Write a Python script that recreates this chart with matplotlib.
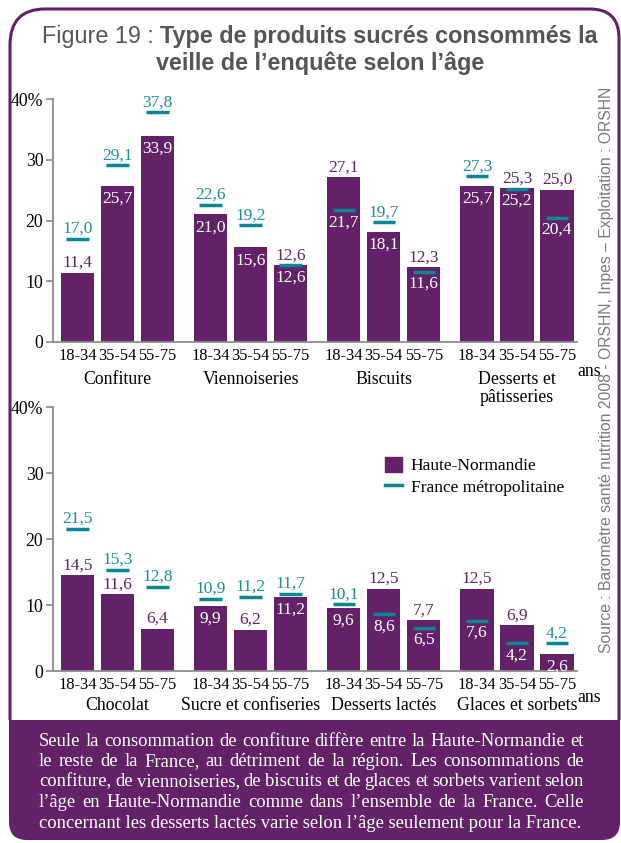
import matplotlib.pyplot as plt
import numpy as np
from matplotlib.path import Path
from matplotlib.patches import PathPatch, Patch
from matplotlib.lines import Line2D

# data
ages = ['18-34', '35-54', '55-75']
cats_top = ['Confiture', 'Viennoiseries', 'Biscuits', 'Desserts et\npâtisseries']
hn_top = [11.4, 25.7, 33.9, 21.0, 15.6, 12.6, 27.1, 18.1, 12.3, 25.7, 25.3, 25.0]
fr_top = [17.0, 29.1, 37.8, 22.6, 19.2, 12.6, 21.7, 19.7, 11.6, 27.3, 25.2, 20.4]
# HN label drawn inside the bar (white) when the France line is above it
hn_in_top = [False, True, True, True, True, False, False, True, False, True, False, False]

cats_bot = ['Chocolat', 'Sucre et confiseries', 'Desserts lactés', 'Glaces et sorbets']
hn_bot = [14.5, 11.6, 6.4, 9.9, 6.2, 11.2, 9.6, 12.5, 7.7, 12.5, 6.9, 2.6]
fr_bot = [21.5, 15.3, 12.8, 10.9, 11.2, 11.7, 10.1, 8.6, 6.5, 7.6, 4.2, 4.2]
hn_in_bot = [False, False, False, True, False, True, True, False, False, False, False, True]

note = ["Seule la consommation de confiture diffère entre la Haute-Normandie et",
        "le reste de la France, au détriment de la région. Les consommations de",
        "confiture, de viennoiseries, de biscuits et de glaces et sorbets varient selon",
        "l’âge en Haute-Normandie comme dans l’ensemble de la France. Celle",
        "concernant les desserts lactés varie selon l’âge seulement pour la France."]

purple = '#632268'
teal = '#0b8793'
teal_txt = '#1a8e9c'
grey = '#8c8c8c'
serif = 'Liberation Serif'
sans = 'Liberation Sans'
fs = 12.8

fig = plt.figure(figsize=(6.21, 8.43), dpi=100)
W, H = 621, 843

bg = fig.add_axes([0, 0, 1, 1], zorder=-1)
bg.set_xlim(0, W)
bg.set_ylim(H, 0)
bg.axis('off')

# frame
verts = [(10, 720), (10, 45), (10, 9), (45, 9), (590, 9), (619, 9), (619, 38), (619, 720)]
codes = [Path.MOVETO, Path.LINETO, Path.CURVE3, Path.CURVE3, Path.LINETO,
         Path.CURVE3, Path.CURVE3, Path.LINETO]
bg.add_patch(PathPatch(Path(verts, codes), fill=False, ec=purple, lw=2.2))
verts = [(9, 720), (620, 720), (620, 822), (620, 840), (602, 840), (27, 840),
         (9, 840), (9, 822), (9, 720)]
codes = [Path.MOVETO, Path.LINETO, Path.LINETO, Path.CURVE3, Path.CURVE3, Path.LINETO,
         Path.CURVE3, Path.CURVE3, Path.CLOSEPOLY]
bg.add_patch(PathPatch(Path(verts, codes), fc=purple, ec='none'))

renderer = fig.canvas.get_renderer()


def width_of(t):
    return t.get_window_extent(renderer).width


# title
t1 = bg.text(0, 37, 'Figure 19 : ', fontsize=16.8, family=sans, color='#555555', va='center')
t2 = bg.text(0, 37, 'Type de produits sucrés consommés la', fontsize=16.8, family=sans,
             weight='bold', color='#555555', va='center')
w1, w2 = width_of(t1), width_of(t2)
x0 = 320 - (w1 + w2) / 2
t1.set_x(x0)
t2.set_x(x0 + w1)
bg.text(320, 63, 'veille de l’enquête selon l’âge', fontsize=16.8, family=sans,
        weight='bold', color='#555555', va='center', ha='center')

# side source
bg.text(606, 370, 'Source : Baromètre santé nutrition 2008 - ORSHN, Inpes – Exploitation : ORSHN',
        rotation=90, fontsize=11.3, family=sans, color='#7a7a7a', ha='center', va='center')

# justified note
xl, xr = 39, 584
for k, line in enumerate(note):
    y = 741 + k * 20.5
    if k == len(note) - 1:
        bg.text(xl, y, line, fontsize=13.4, family=serif, color='white', va='center')
        continue
    words = line.split()
    ts = [bg.text(0, y, w, fontsize=13.4, family=serif, color='white', va='center') for w in words]
    ws = [width_of(t) for t in ts]
    gap = (xr - xl - sum(ws)) / (len(words) - 1)
    x = xl
    for t, w in zip(ts, ws):
        t.set_x(x)
        x += w + gap

pitch = 3.33
xs = np.array([g * pitch + i for g in range(4) for i in range(3)])


def panel(rect, cats, hn, fr, hn_in, cat_y):
    ax = fig.add_axes(rect)
    ax.patch.set_visible(False)
    ax.bar(xs, hn, width=0.83, color=purple, zorder=2)
    ax.hlines(fr, xs - 0.28, xs + 0.28, color=teal, lw=2.5, zorder=3)
    for x, h, f, inside in zip(xs, hn, fr, hn_in):
        lh = f'{h:.1f}'.replace('.', ',')
        lf = f'{f:.1f}'.replace('.', ',')
        kw = dict(textcoords='offset pixels', ha='center', fontsize=12.5, family=serif, zorder=4)
        if h >= f:
            ax.annotate(lh, (x, h), xytext=(0, 2), va='bottom', color=purple, **kw)
            ax.annotate(lf, (x, f), xytext=(0, -4), va='top', color='white', **kw)
        else:
            ax.annotate(lf, (x, f), xytext=(0, 2), va='bottom', color=teal_txt, **kw)
            if inside:
                ax.annotate(lh, (x, h), xytext=(0, -5), va='top', color='white', **kw)
            else:
                ax.annotate(lh, (x, h), xytext=(0, 2), va='bottom', color=purple, **kw)
    ax.set_ylim(0, 40)
    ax.set_xlim(-0.61, 12.49)
    ax.set_yticks([0, 10, 20, 30, 40])
    ax.set_yticklabels(['0', '10', '20', '30', '40%'])
    ax.set_xticks(xs)
    ax.set_xticklabels(ages * 4)
    ax.tick_params(axis='x', length=0, pad=4)
    ax.tick_params(axis='y', length=5, width=1.2, color=grey, pad=2)
    for lab in ax.get_yticklabels():
        lab.set_family(serif)
        lab.set_fontsize(fs)
    for lab in ax.get_xticklabels():
        lab.set_family(serif)
        lab.set_fontsize(11.9)
    for s in ['top', 'right']:
        ax.spines[s].set_visible(False)
    for s in ['left', 'bottom']:
        ax.spines[s].set_color(grey)
        ax.spines[s].set_linewidth(1.3)
    for g, c in enumerate(cats):
        ax.text(g * pitch + 1, cat_y, c, transform=ax.get_xaxis_transform(), ha='center',
                va='top', fontsize=fs, family=serif, linespacing=1.05)
    return ax


ax1 = panel([53 / W, 1 - 342 / H, 524 / W, 243 / H], cats_top, hn_top, fr_top, hn_in_top, -0.12)
ax1.text(1.0, -0.085, 'ans', transform=ax1.transAxes, ha='left', va='top', fontsize=fs, family=serif)
ax2 = panel([53 / W, 1 - 671 / H, 524 / W, 264 / H], cats_bot, hn_bot, fr_bot, hn_in_bot, -0.1)
ax2.text(1.0, -0.07, 'ans', transform=ax2.transAxes, ha='left', va='top', fontsize=fs, family=serif)

handles = [Patch(color=purple), Line2D([], [], color=teal, lw=2.5)]
fig.legend(handles, ['Haute-Normandie', 'France métropolitaine'], loc='upper left',
           bbox_to_anchor=(369 / W, 1 - 441 / H), frameon=False, handlelength=1.0,
           handleheight=1.0, handletextpad=0.5, labelspacing=0.2,
           prop={'family': serif, 'size': 12.5})

fig.savefig('out.png', dpi=100)
